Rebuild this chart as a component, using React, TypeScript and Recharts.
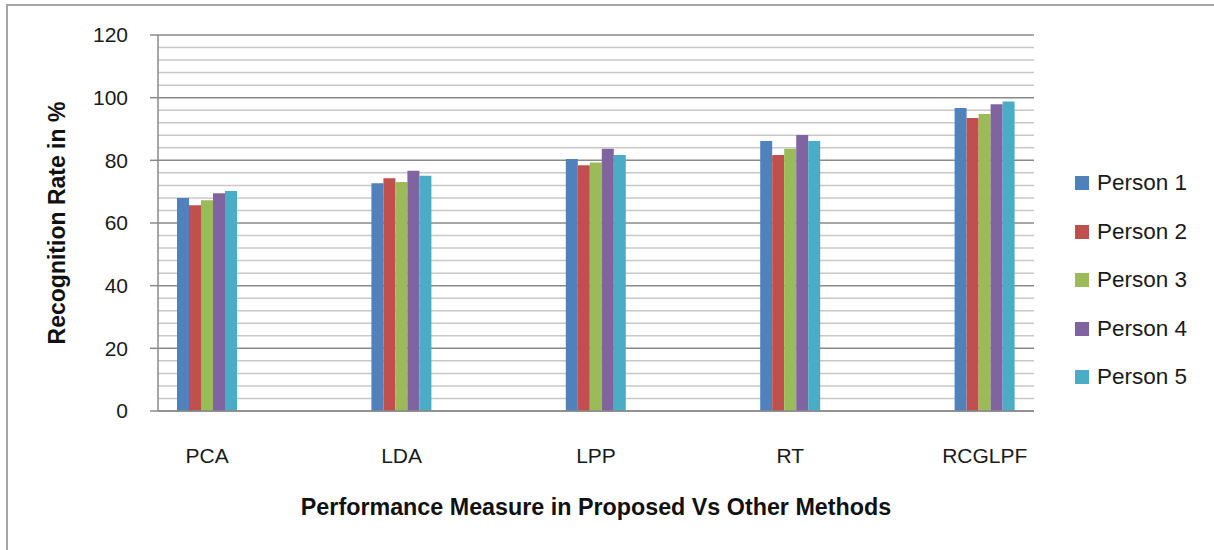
import React from "react";
import {
  BarChart,
  Bar,
  XAxis,
  YAxis,
  CartesianGrid,
  Legend,
} from "recharts";

const categories = ["PCA", "LDA", "LPP", "RT", "RCGLPF"];
const seriesNames = ["Person 1", "Person 2", "Person 3", "Person 4", "Person 5"];
const person1 = [68.0, 72.7, 80.4, 86.2, 96.7];
const person2 = [65.7, 74.3, 78.4, 81.7, 93.5];
const person3 = [67.3, 73.1, 79.3, 83.7, 94.8];
const person4 = [69.5, 76.7, 83.7, 88.1, 97.9];
const person5 = [70.2, 75.1, 81.7, 86.2, 98.8];
// every 4 units; labels only on the multiples of 20
const yTicks = [0, 4, 8, 12, 16, 20, 24, 28, 32, 36, 40, 44, 48, 52, 56, 60, 64, 68, 72, 76, 80, 84, 88, 92, 96, 100, 104, 108, 112, 116, 120];

const colors = ["#4F81BD", "#C0504D", "#9BBB59", "#8064A2", "#4BACC6"];
const FONT = "'Liberation Sans', Arial, sans-serif";
const TICK_MARGIN = 22;
const TICK_SIZE = 8;

const data = categories.map((name, i) => ({
  name,
  p1: person1[i],
  p2: person2[i],
  p3: person3[i],
  p4: person4[i],
  p5: person5[i],
}));

function YTick({ x, y, payload }: any) {
  if (payload.value % 20 !== 0) return null;
  return (
    <g>
      <line
        x1={x + TICK_MARGIN}
        x2={x + TICK_MARGIN + TICK_SIZE}
        y1={y}
        y2={y}
        stroke="#8a8a8a"
        strokeWidth={1.5}
      />
      <text
        x={x}
        y={y}
        dy="0.355em"
        textAnchor="end"
        fill="#1a1a1a"
        fontSize={21}
        fontFamily={FONT}
      >
        {payload.value}
      </text>
    </g>
  );
}

function GridLine(props: any) {
  const major = props.index % 5 === 0;
  return (
    <line
      x1={props.x1}
      x2={props.x2}
      y1={props.y1}
      y2={props.y2}
      stroke={major ? "#8a8a8a" : "#c8c8c8"}
      strokeWidth={1.5}
      fill="none"
    />
  );
}

function LegendList({ payload }: any) {
  return (
    <div style={{ fontFamily: FONT, fontSize: 22.5, color: "#1a1a1a" }}>
      {(payload || []).map((p: any) => (
        <div
          key={p.value}
          style={{ display: "flex", alignItems: "center", height: 48.5 }}
        >
          <span
            style={{
              width: 14,
              height: 14,
              background: p.color,
              display: "inline-block",
              marginRight: 8,
            }}
          />
          <span>{p.value}</span>
        </div>
      ))}
    </div>
  );
}

export default function App() {
  return (
    <div style={{ position: "absolute", left: 0, top: 0, width: 1214, height: 550, background: "#fff" }}>
      <div
        style={{
          position: "absolute",
          left: 6,
          top: 4,
          width: 1208,
          height: 546,
          borderLeft: "2px solid #a6a6a6",
          borderTop: "2px solid #a6a6a6",
          boxSizing: "border-box",
        }}
      />
      <div style={{ position: "absolute", left: 0, top: 0 }}>
        <BarChart
          width={1214}
          height={550}
          data={data}
          margin={{ top: 35, right: 40, bottom: 29, left: 38 }}
          barCategoryGap={67}
          barGap={0}
        >
          <CartesianGrid
            vertical={false}
            horizontal={(p: any) => <GridLine key={p.key} {...p} />}
          />
          <XAxis
            dataKey="name"
            height={110}
            padding={{ left: -48, right: -48 }}
            tickLine={false}
            axisLine={{ stroke: "#8a8a8a", strokeWidth: 1.5 }}
            tickMargin={31}
            tick={{ fill: "#1a1a1a", fontSize: 21, fontFamily: FONT }}
            label={{
              value: "Performance Measure in Proposed Vs Other Methods",
              position: "insideBottom",
              offset: 6,
              style: { fontFamily: FONT, fontSize: 23.3, fontWeight: 700, fill: "#111" },
            }}
          />
          <YAxis
            width={120}
            domain={[0, 120]}
            ticks={yTicks}
            interval={0}
            tickSize={TICK_SIZE}
            tickMargin={TICK_MARGIN}
            tickLine={false}
            axisLine={{ stroke: "#8a8a8a", strokeWidth: 1.5 }}
            tick={<YTick />}
            label={{
              value: "Recognition Rate in %",
              angle: -90,
              position: "insideLeft",
              offset: 19,
              style: { textAnchor: "middle", fontFamily: FONT, fontSize: 23, fontWeight: 700, fill: "#111" },
            }}
          />
          <Legend
            layout="vertical"
            align="right"
            verticalAlign="middle"
            content={<LegendList />}
            wrapperStyle={{ left: 1075, top: 159, width: 140 }}
          />
          {["p1", "p2", "p3", "p4", "p5"].map((k, i) => (
            <Bar
              key={k}
              dataKey={k}
              name={seriesNames[i]}
              fill={colors[i]}
              isAnimationActive={false}
            />
          ))}
        </BarChart>
      </div>
    </div>
  );
}
